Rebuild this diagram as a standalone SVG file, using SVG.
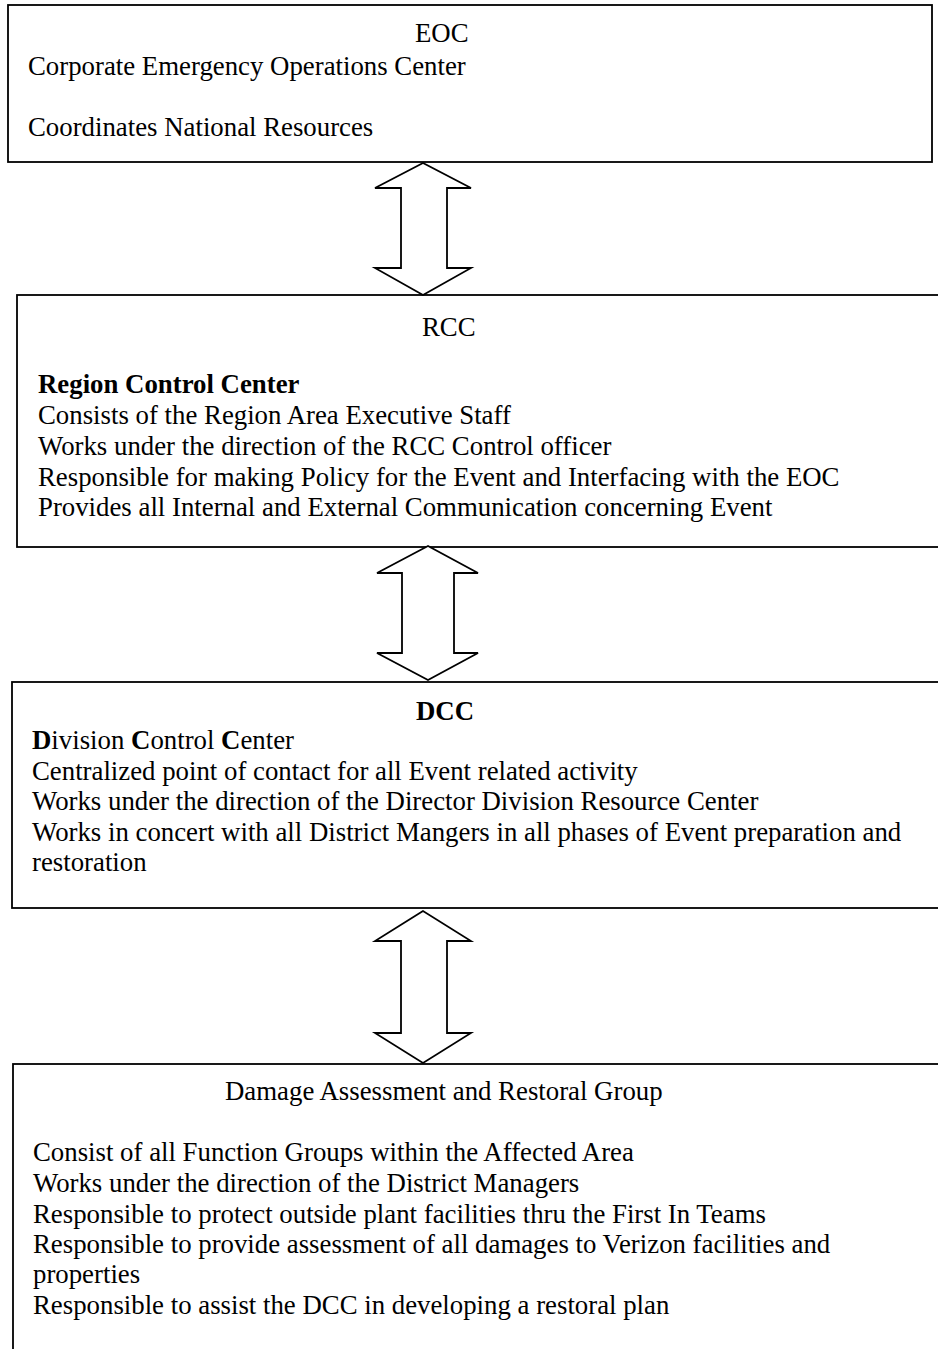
<svg xmlns="http://www.w3.org/2000/svg" width="938" height="1349" viewBox="0 0 938 1349">
<style>
.box{fill:#fff;stroke:#000;stroke-width:1.8}
.arr{fill:#fff;stroke:#000;stroke-width:1.8;stroke-linejoin:miter}
text{font-family:"Liberation Serif","Times New Roman",serif;font-size:26.8px;fill:#000}
.b{font-weight:bold}
</style>
<rect x="0" y="0" width="938" height="1349" fill="#fff"/>
<g id="eoc">
<rect class="box" x="8" y="5" width="924" height="157"/>
<text x="415" y="42">EOC</text>
<text x="28" y="75">Corporate Emergency Operations Center</text>
<text x="28" y="136">Coordinates National Resources</text>
</g>
<g id="rcc">
<rect class="box" x="17" y="295" width="940" height="252"/>
<text x="422" y="336">RCC</text>
<text class="b" x="38" y="393">Region Control Center</text>
<text x="38" y="424">Consists of the Region Area Executive Staff</text>
<text x="38" y="455">Works under the direction of the RCC Control officer</text>
<text x="38" y="486">Responsible for making Policy for the Event and Interfacing with the EOC</text>
<text x="38" y="516">Provides all Internal and External Communication concerning Event</text>
</g>
<g id="dcc">
<rect class="box" x="12" y="682" width="945" height="226"/>
<text class="b" x="416" y="720">DCC</text>
<text x="32" y="749"><tspan class="b">D</tspan>ivision <tspan class="b">C</tspan>ontrol <tspan class="b">C</tspan>enter</text>
<text x="32" y="780">Centralized point of contact for all Event related activity</text>
<text x="32" y="810">Works under the direction of the Director Division Resource Center</text>
<text x="32" y="841">Works in concert with all District Mangers in all phases of Event preparation and</text>
<text x="32" y="871">restoration</text>
</g>
<g id="darg">
<rect class="box" x="13" y="1064" width="945" height="300"/>
<text x="225" y="1100">Damage Assessment and Restoral Group</text>
<text x="33" y="1161">Consist of all Function Groups within the Affected Area</text>
<text x="33" y="1192">Works under the direction of the District Managers</text>
<text x="33" y="1223">Responsible to protect outside plant facilities thru the First In Teams</text>
<text x="33" y="1253">Responsible to provide assessment of all damages to Verizon facilities and</text>
<text x="33" y="1283">properties</text>
<text x="33" y="1314">Responsible to assist the DCC in developing a restoral plan</text>
</g>
<g id="connectors">
<polygon class="arr" points="423,163 375,188 401,188 401,268 375,268 423,295 471,268 447,268 447,188 471,188"/>
<polygon class="arr" points="428,546 377,573 402,573 402,653 377,653 428,680 478,653 454,653 454,573 478,573"/>
<polygon class="arr" points="423,911 375,941 401,941 401,1033 375,1033 423,1063 471,1033 447,1033 447,941 471,941"/>
</g>
</svg>
